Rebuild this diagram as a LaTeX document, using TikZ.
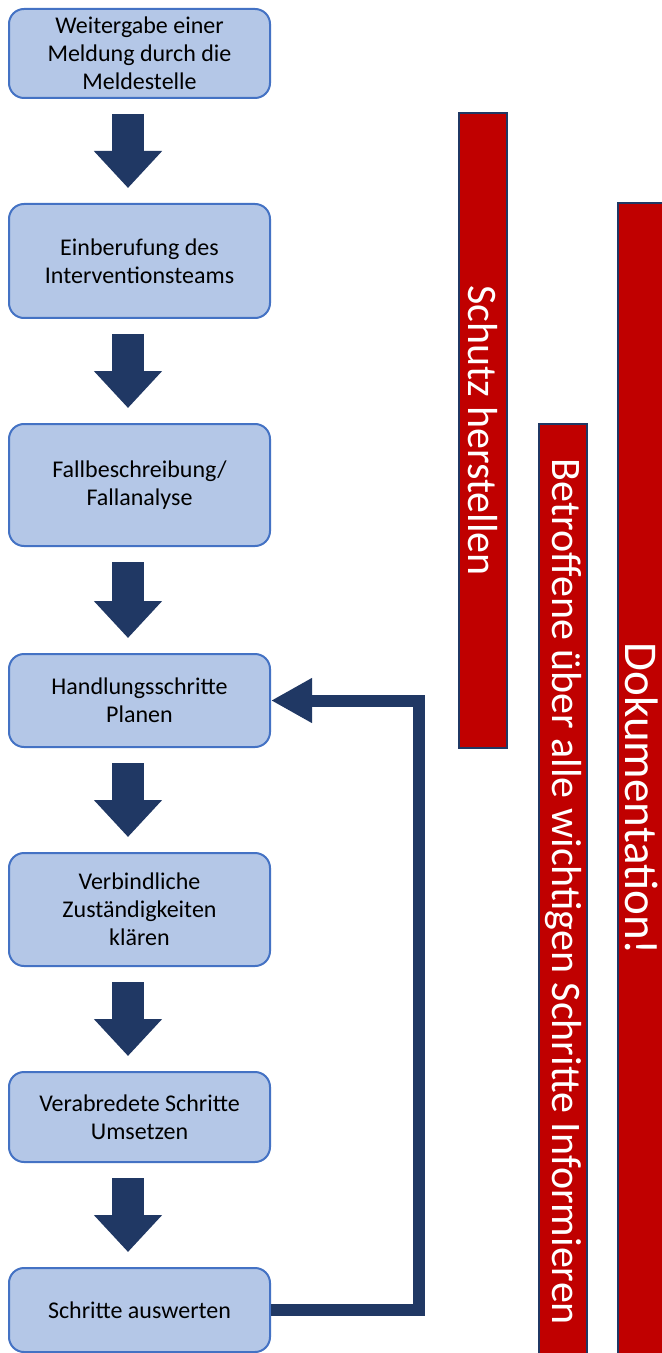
\documentclass[tikz,border=0pt]{standalone}
\usepackage{fontspec}
\setmainfont{Carlito}
\usetikzlibrary{arrows.meta}
\definecolor{boxfill}{HTML}{B4C7E7}
\definecolor{boxline}{HTML}{4472C4}
\definecolor{navy}{HTML}{203864}
\definecolor{barred}{HTML}{C00000}
\begin{document}
\begin{tikzpicture}[x=0.5pt,y=-0.5pt,
  stepbox/.style={draw=boxline, fill=boxfill, line width=1pt, rounded corners=7.5pt,
    minimum width=130.5pt, align=center, inner sep=2pt,
    font=\fontsize{12}{14}\selectfont, text=black},
  bar/.style={draw=navy, fill=barred, line width=1pt, rotate=-90,
    minimum height=24pt, inner sep=0pt, text=white,
    font=\fontsize{21}{24}\selectfont},
  blockarrow/.style={draw=navy, line width=16pt,
    -{Triangle[length=18.5pt,width=33pt]}, shorten <=7.5pt, shorten >=7.5pt},
  fbarrow/.style={draw=navy, line width=6pt, line join=miter,
    -{Triangle[length=20.5pt,width=21pt]}}
]
\clip (0,0) rectangle (662,1353);
\fill[white] (0,0) rectangle (662,1353);

% red bars
\node[bar, minimum width=317.5pt] (schutz) at (483,430.5) {Schutz herstellen};
\node[bar, minimum width=468pt] (betroffene) at (563,892) {Betroffene über alle wichtigen Schritte Informieren};
\node[bar, minimum width=596pt, font=\fontsize{23.5}{26}\selectfont] (doku) at (642,799) {Dokumentation!};

% steps
\node[stepbox, minimum height=44.5pt] (b1) at (139.5,53.5) {Weitergabe einer\\Meldung durch die\\Meldestelle};
\node[stepbox, minimum height=57pt] (b2) at (139.5,261) {Einberufung des\\Interventionsteams};
\node[stepbox, minimum height=61pt] (b3) at (139.5,485) {Fallbeschreibung/\\Fallanalyse};
\node[stepbox, minimum height=46.5pt] (b4) at (139.5,700.5) {Handlungsschritte\\Planen};
\node[stepbox, minimum height=56.5pt] (b5) at (139.5,909.5) {Verbindliche\\Zuständigkeiten\\klären};
\node[stepbox, minimum height=45pt] (b6) at (139.5,1117) {Verabredete Schritte\\Umsetzen};
\node[stepbox, minimum height=42pt] (b7) at (139.5,1310) {Schritte auswerten};

% block arrows
\coordinate (ax) at (128,0);
\draw[blockarrow] (b1.south -| ax) -- (b2.north -| ax);
\draw[blockarrow] (b2.south -| ax) -- (b3.north -| ax);
\draw[blockarrow] (b3.south -| ax) -- (b4.north -| ax);
\draw[blockarrow] (b4.south -| ax) -- (b5.north -| ax);
\draw[blockarrow] (b5.south -| ax) -- (b6.north -| ax);
\draw[blockarrow] (b6.south -| ax) -- (b7.north -| ax);

% feedback loop
\coordinate (fbx) at (419,0);
\draw[fbarrow] (b7.east) -| (fbx |- b4.east) -- (b4.east);
\end{tikzpicture}
\end{document}
